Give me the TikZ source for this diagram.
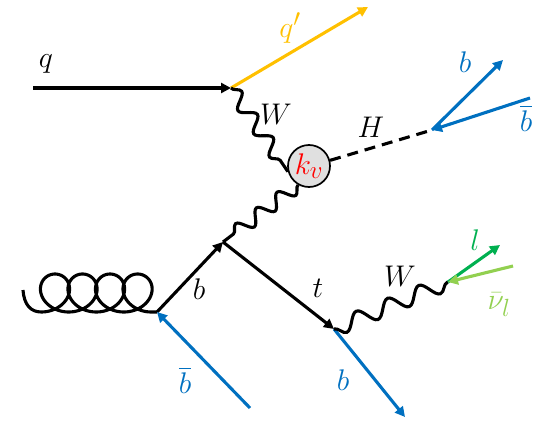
\documentclass[tikz,border=0pt]{standalone}
\usepackage{xcolor}
\usepackage{tikz}
\usepackage{amsmath}
\usetikzlibrary{arrows.meta,decorations.pathmorphing}

\definecolor{qgold}{HTML}{FFC000}
\definecolor{bblue}{HTML}{0070C0}
\definecolor{lgreen}{HTML}{00B050}
\definecolor{nugreen}{HTML}{92D050}

\begin{document}
\begin{tikzpicture}[
  x=1pt, y=-1pt,
  fer/.style={line width=3.1pt, -{Triangle[length=10pt,width=10pt]}},
  bos/.style={line width=3.1pt, decorate, decoration={snake, amplitude=7pt, segment length=28pt}},
  higgs/.style={line width=3.1pt, dash pattern=on 11pt off 7pt},
  blob/.style={circle, draw, line width=1.7pt, fill=black!12, minimum size=42pt, inner sep=0pt},
  lbl/.style={font=\Huge, scale=1.2, inner sep=0pt}
]
\useasboundingbox (0,0) rectangle (552,423);
% vertices and free ends
\coordinate (v1) at (231,88);
\coordinate (qin) at (33,88);
\coordinate (qout) at (368,7);
\coordinate (hb) at (432,130);
\coordinate (bout) at (503,60);
\coordinate (bbin) at (530,98);
\coordinate (vb) at (223,242);
\coordinate (gin) at (23,290);
\coordinate (gb) at (157,312);
\coordinate (bbarin) at (250,408);
\coordinate (vt) at (334,329);
\coordinate (bfin) at (405,417);
\coordinate (vw) at (448,282);
\coordinate (lout) at (500,245);
\coordinate (nuin) at (513,266);
\node[blob] (kv) at (309,166) {};
\node[lbl, text=red] (lkv) at (kv) {$k_v$};

% upper quark line
\draw[fer] (qin) -- (v1);
\draw[fer, qgold] (v1) -- (qout);
\draw[bos] (v1) -- (kv.195);
\draw[bos, decoration={segment length=26pt}] (kv.240) -- (vb);
\draw[higgs] (kv.15) -- (hb);
\draw[fer, bblue] (hb) -- (bout);
\draw[fer, bblue] (bbin) -- (hb);

% gluon splitting
\draw[line width=3.1pt, samples=300, domain=-3.1416:21.99, variable=\t]
  (gin) .. controls (24,305) and (31,312) .. (41.2,312)
  -- plot ({55+4.38*\t-21*sin(\t r)},{293-19*cos(\t r)}) -- (gb);
\draw[fer] (gb) -- (vb);
\draw[fer, bblue] (bbarin) -- (gb);

% top decay
\draw[fer] (vb) -- (vt);
\draw[fer, bblue] (vt) -- (bfin);
\draw[bos, decoration={amplitude=-8pt, segment length=33.8pt}] (vt) -- (vw);
\draw[fer, lgreen] (vw) -- (lout);
\draw[fer, nugreen] (nuin) -- (vw);

% labels
\node[lbl] (lq) at (46,64) {$q$};
\node[lbl, text=qgold] (lqp) at (290,28) {$q'$};
\node[lbl] (lw1) at (276,114) {$W$};
\node[lbl] (lh) at (371,127) {$H$};
\node[lbl, text=bblue] (lb1) at (465,62) {$b$};
\node[lbl, text=bblue] (lbb1) at (526,118) {$\overline{b}$};
\node[lbl] (lb2) at (199,289) {$b$};
\node[lbl, text=bblue] (lbb2) at (185,380) {$\overline{b}$};
\node[lbl] (lt) at (318,288) {$t$};
\node[lbl] (lw2) at (400,276) {$W$};
\node[lbl, text=bblue] (lb3) at (343,380) {$b$};
\node[lbl, text=lgreen] (ll) at (475,240) {$l$};
\node[lbl, text=nugreen] (lnu) at (499,305) {$\bar{\nu}_l$};
\end{tikzpicture}
\end{document}
